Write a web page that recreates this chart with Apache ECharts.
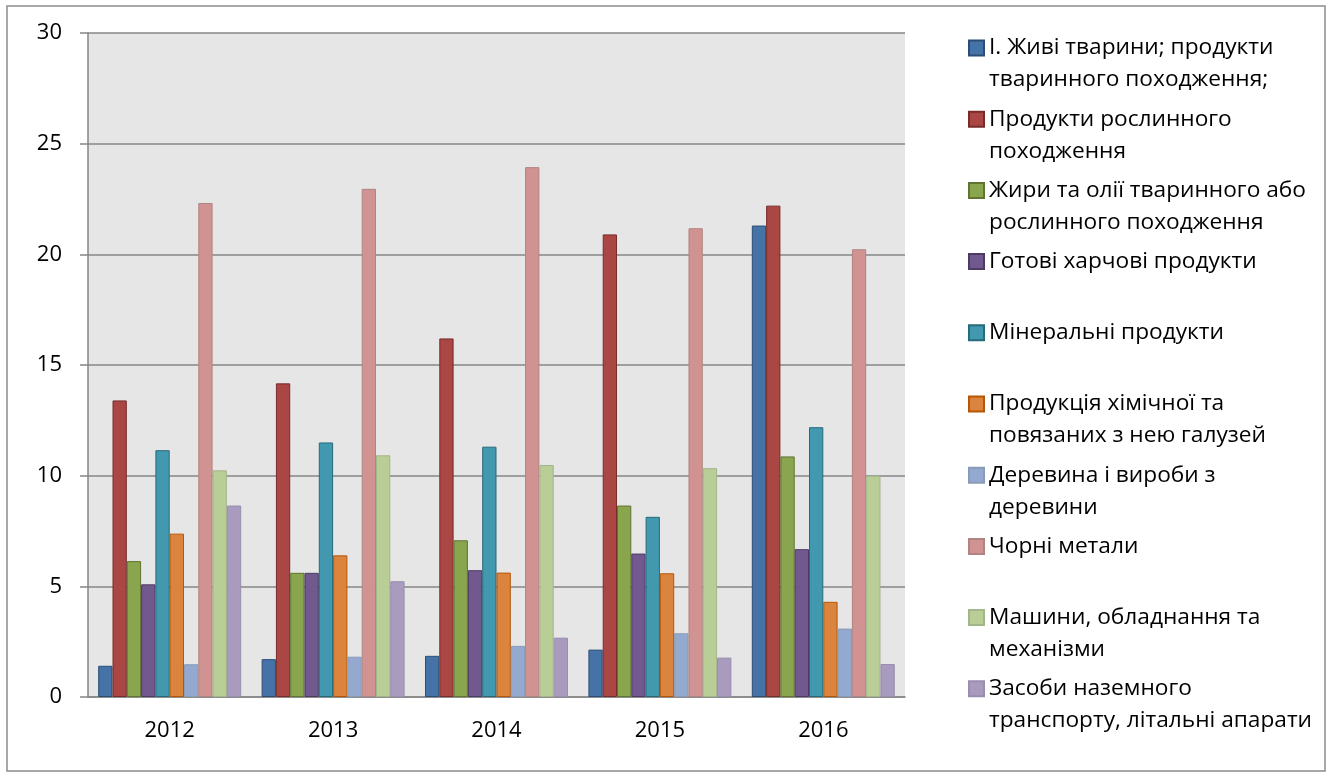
<!DOCTYPE html>
<html>
<head>
<meta charset="utf-8">
<script src="https://cdn.jsdelivr.net/npm/echarts@6/dist/echarts.min.js"></script>
<style>
  html, body { margin: 0; padding: 0; background: #fff; }
  #chart { width: 1331px; height: 778px; }
</style>
</head>
<body>
<div id="chart"></div>
<script>
const years = ["2012", "2013", "2014", "2015", "2016"];
const yTicks = [0, 5, 10, 15, 20, 25, 30];

const names = [
  "І. Живі тварини; продукти\nтваринного походження;",
  "Продукти рослинного\nпоходження",
  "Жири та олії тваринного або\nрослинного походження",
  "Готові харчові продукти",
  "Мінеральні продукти",
  "Продукція хімічної та\nповязаних з нею галузей",
  "Деревина і вироби з\nдеревини",
  "Чорні метали",
  "Машини, обладнання та\nмеханізми",
  "Засоби наземного\nтранспорту, літальні апарати"
];

const livestock = [1.41, 1.71, 1.86, 2.14, 21.3];
const plant = [13.4, 14.17, 16.2, 20.9, 22.2];
const fats = [6.14, 5.61, 7.08, 8.65, 10.87];
const food = [5.09, 5.61, 5.73, 6.48, 6.68];
const mineral = [11.15, 11.5, 11.31, 8.14, 12.19];
const chemical = [7.38, 6.4, 5.62, 5.59, 4.3];
const wood = [1.48, 1.82, 2.31, 2.88, 3.09];
const metals = [22.32, 22.96, 23.94, 21.18, 20.23];
const machinery = [10.24, 10.92, 10.48, 10.34, 10.0];
const transport = [8.65, 5.23, 2.68, 1.78, 1.49];

const values = [livestock, plant, fats, food, mineral, chemical, wood, metals, machinery, transport];
const colors = ["#4572A7", "#AA4643", "#89A54E", "#71588F", "#4198AF",
                "#DB843D", "#93A9CF", "#D19392", "#B9CD96", "#A99BBD"];
const borders = ["#2C4D75", "#772C2A", "#5F7530", "#4D3B62", "#276A7C",
                 "#B65708", "#8A9BB8", "#B08483", "#A3B68A", "#9A8DAE"];

const fontFamily = "'Open Sans', 'Noto Sans', sans-serif";
const chart = echarts.init(document.getElementById("chart"));

// legend: one component per entry so the spacing matches the original.
// two-line entries get a tall icon box whose square sits at the top,
// so the square lines up with the first text line
const lineH = 32;
const legendStep = 71.2;
const tallIcon = "path://M0,0L15,0L15,15L0,15Z M0,47L0,47";
const legends = names.map((name, i) => {
  const twoLines = name.indexOf("\n") >= 0;
  const center = 48 + legendStep * i;
  return {
    data: [name],
    left: 968,
    top: center - lineH / 2,
    orient: "vertical",
    padding: 0,
    itemWidth: 15,
    itemHeight: twoLines ? 47 : 15,
    itemGap: 0,
    icon: twoLines ? tallIcon : "rect",
    selectedMode: false,
    textStyle: {
      fontFamily: fontFamily,
      fontSize: 22.7,
      lineHeight: lineH,
      color: "#000"
    }
  };
});

const series = names.map((name, i) => ({
  name: name,
  type: "bar",
  data: values[i],
  barGap: "0%",
  barCategoryGap: "12.5%",
  itemStyle: {
    color: colors[i],
    borderColor: borders[i],
    borderWidth: 1
  }
}));

chart.setOption({
  animation: false,
  textStyle: { fontFamily: fontFamily },
  graphic: [{
    type: "rect",
    shape: { x: 7, y: 6, width: 1318, height: 765 },
    style: { fill: "none", stroke: "#8C8C8C", lineWidth: 1.5 },
    silent: true
  }],
  grid: {
    left: 88,
    top: 33,
    right: 426,
    bottom: 81,
    show: true,
    backgroundColor: "#E6E6E6",
    borderWidth: 0,
    outerBoundsMode: "none"
  },
  legend: legends,
  xAxis: {
    type: "category",
    data: years,
    axisLine: { lineStyle: { color: "#868686", width: 1.5 } },
    axisTick: { show: false },
    axisLabel: { color: "#000", fontSize: 22, margin: 23 }
  },
  yAxis: {
    type: "value",
    min: yTicks[0],
    max: yTicks[yTicks.length - 1],
    interval: 5,
    axisLine: { show: true, lineStyle: { color: "#868686", width: 1.5 } },
    axisTick: { show: true, length: 8, lineStyle: { color: "#868686", width: 1.5 } },
    axisLabel: { color: "#000", fontSize: 22, margin: 26 },
    splitLine: { show: true, lineStyle: { color: "#868686", width: 1.5 } }
  },
  series: series
});
</script>
</body>
</html>
